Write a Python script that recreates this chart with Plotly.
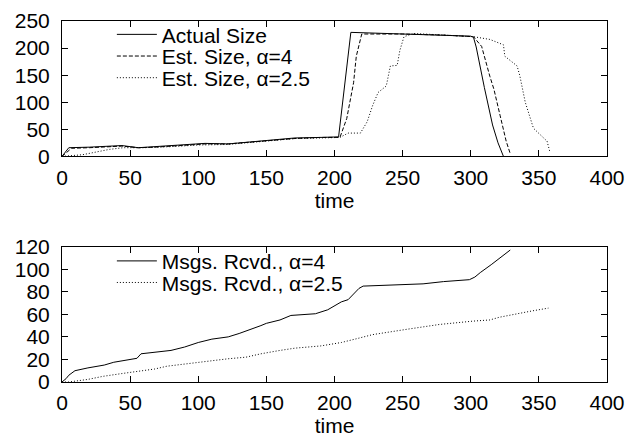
import plotly.graph_objects as go

# ---- top panel: group size over time ----
actual_t = [0, 5, 20, 44, 56, 68, 93, 105, 122, 147, 171, 190, 203, 212, 250, 280, 300, 302, 304, 310, 316, 320, 324]
actual_v = [0, 16, 17, 20, 16, 18, 21, 24, 23, 29, 34, 35, 36, 229, 226, 224, 222, 220, 202, 127, 58, 25, 0]

est4_t = [0, 7, 20, 44, 56, 68, 93, 105, 122, 147, 171, 190, 204, 209, 211, 214, 216, 220, 250, 280, 302, 308, 314, 317, 321.5, 326, 329]
est4_v = [0, 15, 16, 19, 16, 17, 21, 23, 23, 28, 33, 35, 35, 70, 94, 136, 185, 226, 226, 224, 221, 203, 148, 124, 76, 28, 5]

est25_t = [0, 5, 15, 25, 35, 45, 60, 80, 100, 122, 147, 171, 190, 204, 210, 219, 224, 228, 232, 238, 241, 246, 248, 251, 258, 280, 302, 314, 324, 325, 334, 336, 340, 346, 351, 356, 358]
est25_v = [0, 1, 3, 8, 13, 16, 16, 18, 21, 22, 28, 33, 34, 35, 43, 43, 64, 94, 118, 130, 167, 168, 196, 221, 227, 224, 221, 216, 206, 185, 167, 149, 100, 52, 40, 28, 9]

# ---- bottom panel: messages received ----
msg4_t = [0, 1, 3, 5, 9.5, 19, 31, 38, 44, 52, 55, 58, 70, 80, 90, 100, 110, 122, 130, 140, 146, 150, 160, 168, 180, 186, 195, 205, 210, 214, 218, 221, 240, 265, 280, 299, 303, 307, 315, 321.5, 329]
msg4_v = [0, 1, 3, 6, 10, 12.5, 15, 17.5, 18.5, 20, 21, 25, 26.5, 28, 31, 35, 38, 40, 43, 47, 50, 52, 55, 59, 60, 60.5, 64, 71, 73, 78.5, 83, 85, 86, 87, 89, 90.7, 93, 97, 104, 110, 117]

msg25_t = [0, 5, 19, 30, 44, 52, 68, 77, 100, 122, 135, 146, 160, 171, 190, 205, 215, 228, 253, 277, 302, 314, 321, 331, 345, 357]
msg25_v = [0, 0, 2.3, 5, 7.5, 9, 11.5, 14, 17.5, 20.6, 22, 25, 28, 30, 32, 35, 38, 42, 46.7, 51, 54, 55, 57.4, 60, 63, 65.5]

x_ticks = [0, 50, 100, 150, 200, 250, 300, 350, 400]
top_y_ticks = [0, 50, 100, 150, 200, 250]
bot_y_ticks = [0, 20, 40, 60, 80, 100, 120]

FONT = "Liberation Sans, Arial, Helvetica, sans-serif"
BLACK = "#000000"

fig = go.Figure()
fig.add_trace(go.Scatter(x=actual_t, y=actual_v, mode="lines", name="Actual Size",
                         line=dict(color=BLACK, width=1), xaxis="x", yaxis="y", legend="legend"))
fig.add_trace(go.Scatter(x=est4_t, y=est4_v, mode="lines", name="Est. Size, α=4",
                         line=dict(color=BLACK, width=1, dash="4px,2px"), xaxis="x", yaxis="y", legend="legend2"))
fig.add_trace(go.Scatter(x=est25_t, y=est25_v, mode="lines", name="Est. Size, α=2.5",
                         line=dict(color=BLACK, width=1, dash="1px,2px"), xaxis="x", yaxis="y", legend="legend3"))
fig.add_trace(go.Scatter(x=msg4_t, y=msg4_v, mode="lines", name="Msgs. Rcvd., α=4",
                         line=dict(color=BLACK, width=1), xaxis="x2", yaxis="y2", legend="legend4"))
fig.add_trace(go.Scatter(x=msg25_t, y=msg25_v, mode="lines", name="Msgs. Rcvd., α=2.5",
                         line=dict(color=BLACK, width=1, dash="1px,2px"), xaxis="x2", yaxis="y2", legend="legend5"))

axis_common = dict(showline=True, linecolor=BLACK, linewidth=1, mirror="ticks",
                   ticks="inside", ticklen=6, tickcolor=BLACK, showgrid=False, zeroline=False,
                   automargin=False, tickfont=dict(family=FONT, size=21, color=BLACK))


def leg(ypos):
    return dict(x=0.0915, y=ypos, xanchor="left", yanchor="middle", bgcolor="rgba(0,0,0,0)",
                font=dict(family=FONT, size=21, color=BLACK), itemwidth=40)


fig.update_layout(
    width=638, height=446,
    # the page body adds an 8px offset; margins compensate so the frames land where the reference has them
    margin=dict(l=54, r=39, t=6, b=72),
    paper_bgcolor="white", plot_bgcolor="white",
    font=dict(family=FONT, size=21, color=BLACK),
    showlegend=True,
    xaxis=dict(domain=[0, 1], range=[0, 400], tickvals=x_ticks, anchor="y", ticklabelstandoff=2,
               title=dict(text="time", font=dict(size=21), standoff=4), **axis_common),
    yaxis=dict(domain=[0.625, 1.0], range=[0, 250], tickvals=top_y_ticks, anchor="x", ticklabelstandoff=7,
               **axis_common),
    xaxis2=dict(domain=[0, 1], range=[0, 400], tickvals=x_ticks, anchor="y2", ticklabelstandoff=2,
                title=dict(text="time", font=dict(size=21), standoff=4), **axis_common),
    yaxis2=dict(domain=[0, 0.375], range=[0, 120], tickvals=bot_y_ticks, anchor="x2", ticklabelstandoff=7,
                **axis_common),
    legend=leg(0.962),
    legend2=leg(0.902),
    legend3=leg(0.842),
    legend4=leg(0.3345),
    legend5=leg(0.2747),
)

fig.write_html("out.html")
